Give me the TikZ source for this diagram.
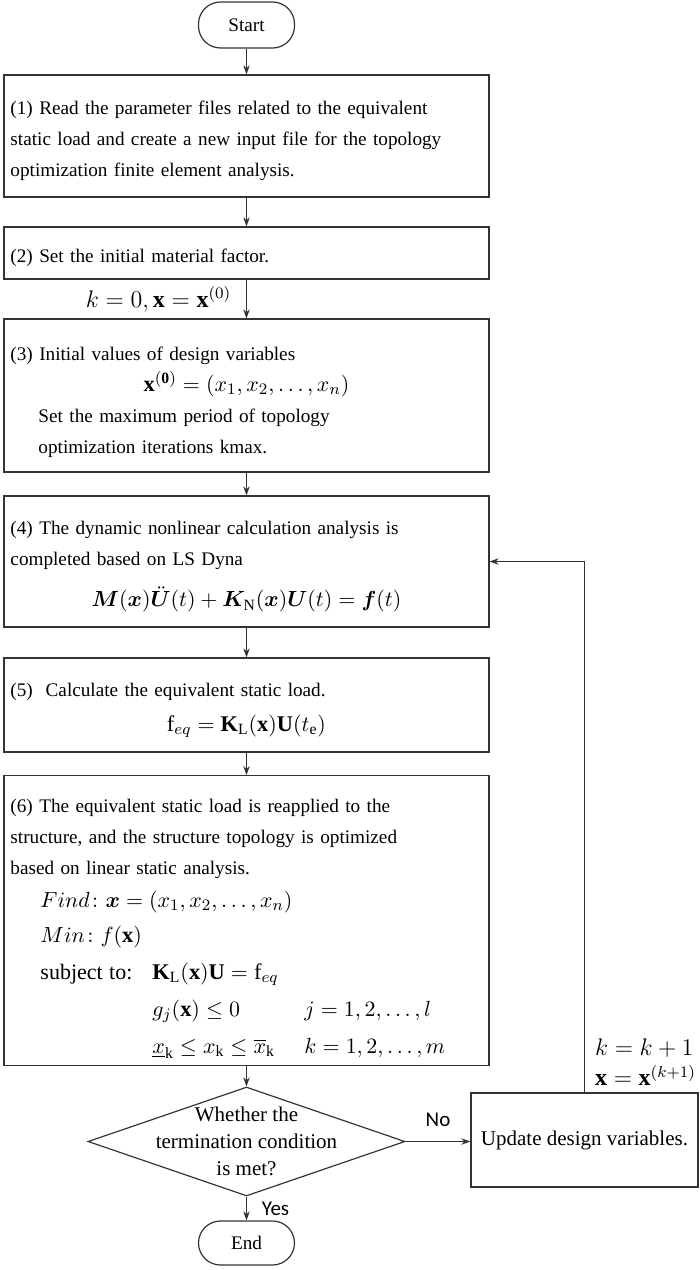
\documentclass[tikz,border=0pt]{standalone}
\usepackage{amsmath}
\usepackage{bm}
\usepackage{fontspec}
\setmainfont{Liberation Serif}
\newfontfamily\yesnofont{Carlito}
\usetikzlibrary{shapes.geometric,arrows.meta}

\newcommand{\mth}[1]{{\fontsize{11.2}{15.5}\selectfont$#1$}}
\newcommand{\eqline}[1]{\makebox[236pt]{\mth{#1}}}

\begin{document}
\begin{tikzpicture}[
x=0.5pt,y=-0.5pt,
font=\fontsize{9.6}{15.5}\selectfont,
line width=0.6pt,
>={Stealth[length=4.5pt,width=3.2pt]},
stepbox/.style={draw=black!80,minimum width=242.5pt,text width=236pt,inner xsep=3.25pt,align=left,
execute at begin node={\rule{0pt}{12pt}}},
termbox/.style={draw=black!80,rounded corners=11pt,minimum width=48pt,minimum height=23pt},
flow/.style={->,draw=black!80}
]

\useasboundingbox (0,0) rectangle (700,1270);

%%%%%%%%%%%%%%%%%%%%%%%%%%%%%%%%%%%%%%%%%%%%%%%%%%%%%%%%%%
% START
%%%%%%%%%%%%%%%%%%%%%%%%%%%%%%%%%%%%%%%%%%%%%%%%%%%%%%%%%%

\node[termbox](start) at (246.5,25) {Start};

%%%%%%%%%%%%%%%%%%%%%%%%%%%%%%%%%%%%%%%%%%%%%%%%%%%%%%%%%%
% STEPS
%%%%%%%%%%%%%%%%%%%%%%%%%%%%%%%%%%%%%%%%%%%%%%%%%%%%%%%%%%

\node[
stepbox,
minimum height=61pt
](read)
at (246.5,136)
{(1) Read the parameter files related to the equivalent\\
static load and create a new input file for the topology\\
optimization finite element analysis.};

\node[
stepbox,
minimum height=26pt
](material)
at (246.5,253)
{(2) Set the initial material factor.};

\node[
stepbox,
minimum height=76.5pt
](init)
at (246.5,395.5)
{\rule{0pt}{13.5pt}(3) Initial values of design variables\\
\eqline{\mathbf{x}^{(\mathbf{0})}=(x_1,x_2,\dots,x_n)}\\
\hspace*{14pt}Set the maximum period of topology\\
\hspace*{14pt}optimization iterations kmax.};

\node[
stepbox,
minimum height=65.5pt
](dyna)
at (246.5,561.5)
{(4) The dynamic nonlinear calculation analysis is\\
completed based on LS Dyna\\[5pt]
\eqline{\bm{M}(\bm{x})\ddot{\bm{U}}(t)+\bm{K}_{\mathrm{N}}(\bm{x})\bm{U}(t)=\bm{f}(t)}};

\node[
stepbox,
minimum height=47pt
](esl)
at (246.5,705)
{(5)\ \ Calculate the equivalent static load.\\[2pt]
\eqline{\mathrm{f}_{eq}=\mathbf{K}_{\mathrm{L}}(\mathbf{x})\mathbf{U}(t_{\mathrm{e}})}};

\node[
stepbox,
minimum height=141.5pt
](topo)
at (246.5,920.5)
{\rule{0pt}{15pt}(6) The equivalent static load is reapplied to the\\
structure, and the structure topology is optimized\\
based on linear static analysis.\\[1pt]
\hspace*{15pt}\mth{Find\colon \bm{x}=(x_1,x_2,\dots,x_n)}\\[2pt]
\hspace*{15pt}\mth{Min\colon f(\mathbf{x})}\\[3pt]
\hspace*{15pt}\makebox[56pt][l]{\fontsize{11}{15.5}\selectfont subject to:}\mth{\mathbf{K}_{\mathrm{L}}(\mathbf{x})\mathbf{U}=\mathrm{f}_{eq}}\\[3pt]
\hspace*{71pt}\makebox[76pt][l]{\mth{g_j(\mathbf{x})\le 0}}\mth{j=1,2,\dots,l}\\[3pt]
\hspace*{71pt}\makebox[76pt][l]{\mth{\underline{x}_{\mathrm{k}}\le x_{\mathrm{k}}\le\overline{x}_{\mathrm{k}}}}\mth{k=1,2,\dots,m}};

%%%%%%%%%%%%%%%%%%%%%%%%%%%%%%%%%%%%%%%%%%%%%%%%%%%%%%%%%%
% DECISION, UPDATE, END
%%%%%%%%%%%%%%%%%%%%%%%%%%%%%%%%%%%%%%%%%%%%%%%%%%%%%%%%%%

\node[
draw=black!80,
diamond,
inner sep=0pt,
minimum width=158.5pt,
minimum height=54.5pt
](cond)
at (246.5,1141.5){};

\node[align=center,font=\fontsize{10.5}{13.5}\selectfont](condtext)
at (cond.center)
{Whether the\\termination condition\\is met?};

\node[
draw=black!80,
minimum width=113.5pt,
minimum height=47pt,
font=\fontsize{10.5}{13}\selectfont
](update)
at (584.5,1140)
{Update design variables.};

\node[termbox,minimum height=22pt](end) at (246.5,1243) {End};

%%%%%%%%%%%%%%%%%%%%%%%%%%%%%%%%%%%%%%%%%%%%%%%%%%%%%%%%%%
% CONNECTIONS
%%%%%%%%%%%%%%%%%%%%%%%%%%%%%%%%%%%%%%%%%%%%%%%%%%%%%%%%%%

\draw[flow](start)--(read);
\draw[flow](read)--(material);
\draw[flow](material)--(init)
node[midway,left,xshift=-4pt]{\fontsize{12}{15}\selectfont$k=0,\mathbf{x}=\mathbf{x}^{(0)}$};
\draw[flow](init)--(dyna);
\draw[flow](dyna)--(esl);
\draw[flow](esl)--(topo);
\draw[flow](topo)--(cond);

\draw[flow](cond.east)--(cond.east-|update.west)
node[midway,above,yshift=4pt]{\yesnofont\fontsize{10.5}{12}\selectfont No};
\draw[flow](cond)--(end)
node[midway,right,xshift=4pt]{\yesnofont\fontsize{10.5}{12}\selectfont Yes};

\draw[flow](update.north)|-(dyna.east);

\node[anchor=south west,align=left,inner sep=1pt,font=\fontsize{12}{15}\selectfont](kstep)
at ([xshift=4pt,yshift=2pt]update.north)
{$k=k+1$\\$\mathbf{x}=\mathbf{x}^{(k+1)}$};

\end{tikzpicture}
\end{document}
